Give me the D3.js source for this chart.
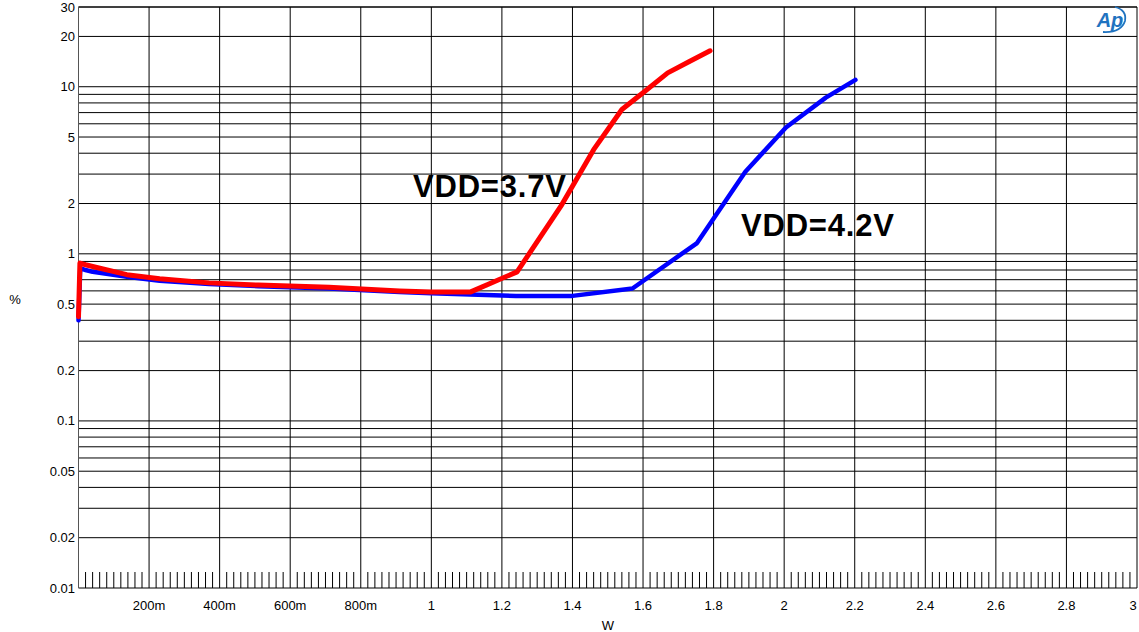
<!DOCTYPE html>
<html>
<head>
<meta charset="utf-8">
<script src="https://cdn.jsdelivr.net/npm/d3@7"></script>
<style>
  body { margin: 0; background: #fff; }
  svg { display: block; }
  text { font-family: Arial, "Liberation Sans", sans-serif; }
</style>
</head>
<body>
<svg id="chart" width="1139" height="632"></svg>
<script>
// THD+N (%) vs output power (W)
var power37 = [0, 0.004, 0.02, 0.04, 0.137, 0.23, 0.37, 0.51, 0.71, 0.91, 1.0, 1.11, 1.243, 1.37, 1.46, 1.54, 1.60, 1.67, 1.73, 1.79];
var thd37   = [0.42, 0.88, 0.86, 0.84, 0.75, 0.71, 0.67, 0.65, 0.63, 0.60, 0.59, 0.59, 0.78, 1.97, 4.2, 7.3, 9.2, 12.1, 14.1, 16.4];

var power42 = [0, 0.005, 0.02, 0.04, 0.137, 0.23, 0.37, 0.51, 0.71, 0.91, 1.0, 1.11, 1.24, 1.4, 1.57, 1.753, 1.89, 2.005, 2.118, 2.202];
var thd42   = [0.40, 0.82, 0.80, 0.78, 0.73, 0.69, 0.66, 0.64, 0.62, 0.59, 0.58, 0.57, 0.56, 0.56, 0.62, 1.16, 3.1, 5.7, 8.6, 11.0];

var xTickValues = [0.2, 0.4, 0.6, 0.8, 1, 1.2, 1.4, 1.6, 1.8, 2, 2.2, 2.4, 2.6, 2.8, 3];
var xTickLabels = ['200m', '400m', '600m', '800m', '1', '1.2', '1.4', '1.6', '1.8', '2', '2.2', '2.4', '2.6', '2.8', '3'];
var yTickValues = [0.01, 0.02, 0.05, 0.1, 0.2, 0.5, 1, 2, 5, 10, 20, 30];
var yTickLabels = ['0.01', '0.02', '0.05', '0.1', '0.2', '0.5', '1', '2', '5', '10', '20', '30'];

(function () {
  var svg = d3.select('#chart');
  var plotLeft = 78.5, plotRight = 1137, plotTop = 7, plotBottom = 588;

  var x = d3.scaleLinear().domain([0, 3]).range([plotLeft, plotRight]);
  var y = d3.scaleLog().domain([0.01, 30]).range([plotBottom, plotTop]);

  var grid = svg.append('g').attr('class', 'grid');

  // horizontal grid: 1..9 per decade
  y.ticks().concat([30]).forEach(function (v) {
    grid.append('line')
      .attr('x1', plotLeft).attr('x2', plotRight)
      .attr('y1', y(v)).attr('y2', y(v))
      .attr('stroke', '#000').attr('stroke-width', 1);
  });

  // vertical grid every 200m
  d3.range(0, 16).forEach(function (i) {
    var v = i * 0.2;
    grid.append('line')
      .attr('x1', x(v)).attr('x2', x(v))
      .attr('y1', plotTop).attr('y2', plotBottom)
      .attr('stroke', i === 0 ? '#555' : '#000').attr('stroke-width', 1);
  });

  // small ticks along the bottom every 20m
  d3.range(1, 150).forEach(function (i) {
    if (i % 10 === 0) return;
    var v = i * 0.02;
    grid.append('line')
      .attr('x1', x(v)).attr('x2', x(v))
      .attr('y1', plotBottom).attr('y2', plotBottom - 16)
      .attr('stroke', '#000').attr('stroke-width', 1);
  });

  // axis labels
  var yAxis = svg.append('g');
  yTickValues.forEach(function (v, i) {
    yAxis.append('text')
      .attr('x', 75).attr('y', y(v))
      .attr('dy', '0.35em')
      .attr('text-anchor', 'end')
      .attr('font-size', 13)
      .attr('fill', '#000')
      .text(yTickLabels[i]);
  });

  var xAxis = svg.append('g');
  xTickValues.forEach(function (v, i) {
    xAxis.append('text')
      .attr('x', Math.min(x(v), 1133)).attr('y', 610)
      .attr('text-anchor', 'middle')
      .attr('font-size', 13)
      .attr('fill', '#000')
      .text(xTickLabels[i]);
  });

  svg.append('text').attr('x', 15).attr('y', 304).attr('text-anchor', 'middle')
    .attr('font-size', 13).text('%');
  svg.append('text').attr('x', 608).attr('y', 630).attr('text-anchor', 'middle')
    .attr('font-size', 13).text('W');

  // curves
  var line = d3.line()
    .x(function (d) { return x(d[0]); })
    .y(function (d) { return y(d[1]); });

  svg.append('path')
    .datum(d3.zip(power42, thd42))
    .attr('d', line)
    .attr('fill', 'none')
    .attr('stroke', '#0000ff')
    .attr('stroke-width', 4.5)
    .attr('stroke-linejoin', 'round')
    .attr('stroke-linecap', 'round');

  svg.append('path')
    .datum(d3.zip(power37, thd37))
    .attr('d', line)
    .attr('fill', 'none')
    .attr('stroke', '#ff0000')
    .attr('stroke-width', 5)
    .attr('stroke-linejoin', 'round')
    .attr('stroke-linecap', 'round');

  // annotations
  svg.append('text').attr('x', 413).attr('y', 197)
    .attr('font-size', 31).attr('font-weight', 'bold').attr('letter-spacing', 0.8)
    .text('VDD=3.7V');
  svg.append('text').attr('x', 741).attr('y', 236)
    .attr('font-size', 31).attr('font-weight', 'bold').attr('letter-spacing', 0.8)
    .text('VDD=4.2V');

  // Ap logo
  var logo = svg.append('g').attr('transform', 'translate(1112,20)');
  logo.append('text')
    .attr('x', -2).attr('y', 7)
    .attr('text-anchor', 'middle')
    .attr('font-size', 20)
    .attr('font-style', 'italic')
    .attr('font-weight', 'bold')
    .attr('fill', '#1f73c0')
    .text('Ap');
  logo.append('path')
    .attr('d', 'M -9 12 Q 9 13 13 1 Q 15 -10 3 -13')
    .attr('fill', 'none')
    .attr('stroke', '#1f73c0')
    .attr('stroke-width', 1.8);
})();
</script>
</body>
</html>
